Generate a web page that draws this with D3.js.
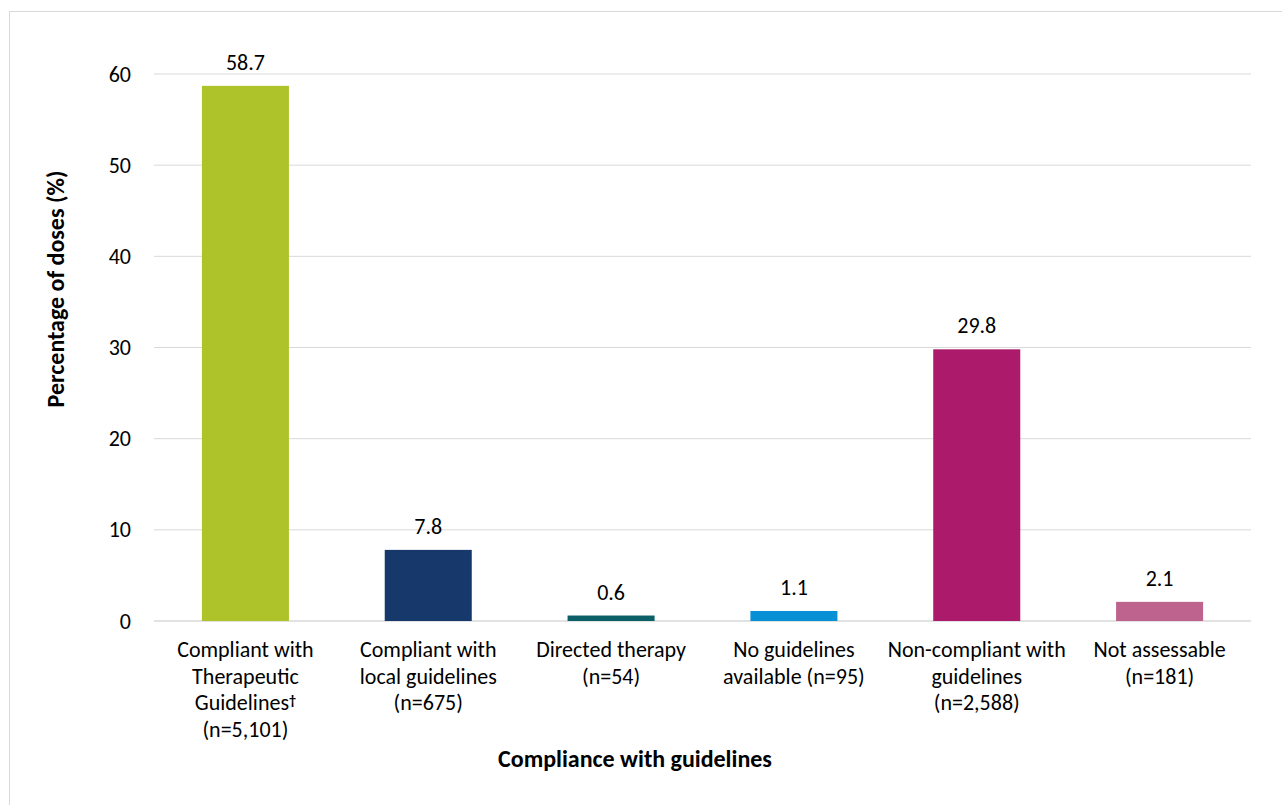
<!DOCTYPE html>
<html>
<head>
<meta charset="utf-8">
<script src="https://cdn.jsdelivr.net/npm/d3@7/dist/d3.min.js"></script>
<style>
  html, body { margin: 0; padding: 0; background: #fff; }
  svg text { font-family: Carlito, Calibri, Lato, "Noto Sans", sans-serif; fill: #000; }
</style>
</head>
<body>
<svg id="chart" width="1282" height="805"></svg>
<script>
// Categories (multi-line labels), values and bar colours
const categoryLines = [
  ["Compliant with", "Therapeutic", "Guidelines\u2020", "(n=5,101)"],
  ["Compliant with", "local guidelines", "(n=675)"],
  ["Directed therapy", "(n=54)"],
  ["No guidelines", "available (n=95)"],
  ["Non-compliant with", "guidelines", "(n=2,588)"],
  ["Not assessable", "(n=181)"]
];
const values = [58.7, 7.8, 0.6, 1.1, 29.8, 2.1];
const barColors = ["#AEC22A", "#17386A", "#0B5F66", "#0790D6", "#AB1A6B", "#BE638D"];
const yTicks = [0, 10, 20, 30, 40, 50, 60];

const svg = d3.select("#chart");
const W = 1282, H = 805;
const margin = { left: 154, right: 31, top: 74, bottom: 184 };
const plotW = W - margin.left - margin.right;
const plotH = H - margin.top - margin.bottom;
const fs = 22;        // regular text size
const titleFs = 24;   // axis title size

// Outer frame
svg.append("rect")
  .attr("x", 9.5).attr("y", 11.5)
  .attr("width", 1300).attr("height", 900)
  .attr("fill", "none").attr("stroke", "#d9d9d9").attr("stroke-width", 1);

const g = svg.append("g").attr("transform", `translate(${margin.left},${margin.top})`);

const idx = d3.range(values.length);
const x = d3.scaleBand().domain(idx).range([0, plotW]).paddingInner(0.524).paddingOuter(0.262);
const y = d3.scaleLinear().domain([0, 60]).range([plotH, 0]);

// Gridlines
g.append("g").selectAll("line").data(yTicks).join("line")
  .attr("x1", 0).attr("x2", plotW)
  .attr("y1", d => y(d)).attr("y2", d => y(d))
  .attr("stroke", "#d9d9d9").attr("stroke-width", d => d === 0 ? 1.5 : 1);

// Y axis tick labels
const yAxis = d3.axisLeft(y).tickValues(yTicks).tickSize(0).tickPadding(23);
const ya = g.append("g").call(yAxis);
ya.select(".domain").remove();
ya.selectAll("text").style("font-size", fs + "px").attr("font-family", null);

// Bars
g.selectAll("rect.bar").data(values).join("rect")
  .attr("class", "bar")
  .attr("x", (d, i) => x(i))
  .attr("width", x.bandwidth())
  .attr("y", d => y(d))
  .attr("height", d => plotH - y(d))
  .attr("fill", (d, i) => barColors[i]);

// Value labels
g.selectAll("text.val").data(values).join("text")
  .attr("class", "val")
  .attr("x", (d, i) => x(i) + x.bandwidth() / 2)
  .attr("y", d => y(d) - 16)
  .attr("text-anchor", "middle")
  .style("font-size", fs + "px")
  .text(d => d.toFixed(1));

// Category labels
const cat = g.selectAll("text.cat").data(categoryLines).join("text")
  .attr("class", "cat")
  .attr("text-anchor", "middle")
  .attr("x", (d, i) => x(i) + x.bandwidth() / 2)
  .attr("y", plotH + 36)
  .style("font-size", fs + "px");
cat.each(function(lines, i) {
  const t = d3.select(this);
  const cx = x(i) + x.bandwidth() / 2;
  lines.forEach((ln, k) => {
    const ts = t.append("tspan").attr("x", cx).attr("dy", k === 0 ? 0 : 26.7);
    if (ln.endsWith("\u2020")) {
      ts.text(ln.slice(0, -1));
      ts.append("tspan")
        .attr("baseline-shift", "35%")
        .style("font-size", "14px").style("font-weight", "bold")
        .text("\u2020");
    } else {
      ts.text(ln);
    }
  });
});

// Axis titles
svg.append("text")
  .attr("x", 635).attr("y", 767)
  .attr("text-anchor", "middle")
  .style("font-size", titleFs + "px").style("font-weight", "bold")
  .text("Compliance with guidelines");

svg.append("text")
  .attr("transform", "translate(64,289) rotate(-90)")
  .attr("text-anchor", "middle")
  .style("font-size", titleFs + "px").style("font-weight", "bold")
  .text("Percentage of doses (%)");
</script>
</body>
</html>
